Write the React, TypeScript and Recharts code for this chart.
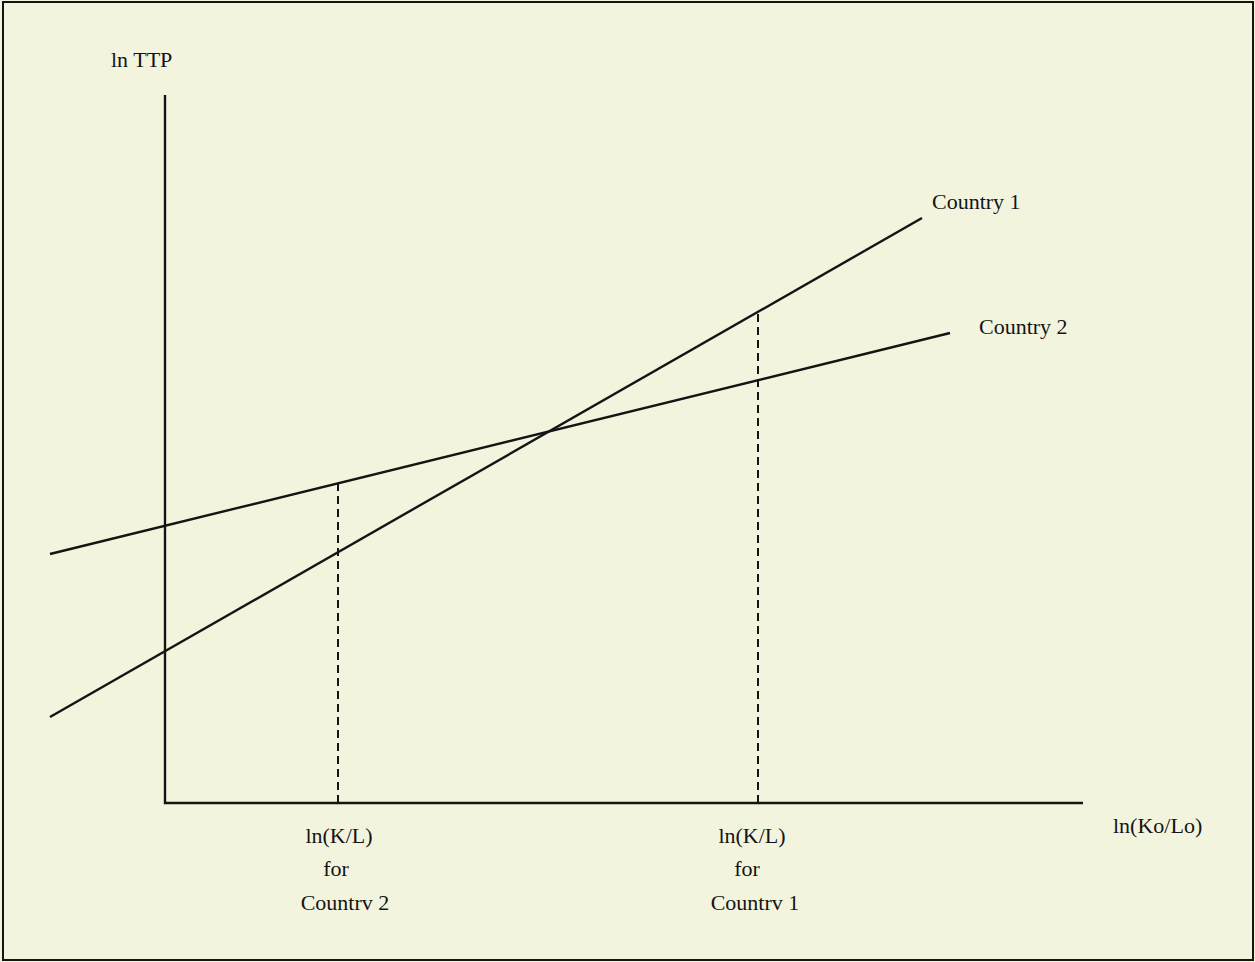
import React from 'react';
import { ComposedChart, Line, Scatter, XAxis, YAxis } from 'recharts';

// diagram units: x = 0 at the vertical axis, y = 0 at the horizontal axis
const country1 = [
    { x: -1.15, y: 0.86 },
    { x: 7.57, y: 5.85 },
];
const country2 = [
    { x: -1.15, y: 2.49 },
    { x: 7.85, y: 4.7 },
];
const axesPath = [
    { x: 0, y: 7.08 },
    { x: 0, y: 0 },
    { x: 9.18, y: 0 },
];
const dropCountry2 = [
    { x: 1.73, y: 0 },
    { x: 1.73, y: 3.2 },
];
const dropCountry1 = [
    { x: 5.93, y: 0 },
    { x: 5.93, y: 4.91 },
];

const startLabels = [
    { x: -0.54, y: 7.36, text: 'ln TTP' },
    { x: 7.67, y: 5.94, text: 'Country 1' },
    { x: 8.14, y: 4.69, text: 'Country 2' },
    { x: 9.48, y: -0.3, text: 'ln(Ko/Lo)' },
];
const tickLabels = [
    { x: 1.74, y: -0.4, text: 'ln(K/L)' },
    { x: 1.71, y: -0.73, text: 'for' },
    { x: 1.8, y: -1.07, text: 'Countrv 2' },
    { x: 5.87, y: -0.4, text: 'ln(K/L)' },
    { x: 5.82, y: -0.73, text: 'for' },
    { x: 5.9, y: -1.07, text: 'Countrv 1' },
];

const INK = '#141414';
const BG = '#f3f4de';
const FONT = '"Liberation Serif", "Times New Roman", serif';

const makeText = (anchor: 'start' | 'middle') => (props: any) => (
    <text
        x={props.cx}
        y={props.cy}
        textAnchor={anchor}
        fontFamily={FONT}
        fontSize={22}
        fill={INK}
    >
        {props.payload.text}
    </text>
);

const lineProps = {
    type: 'linear' as const,
    dataKey: 'y',
    stroke: INK,
    dot: false,
    activeDot: false,
    legendType: 'none' as const,
    isAnimationActive: false,
};

export default function App() {
    return (
        <div style={{ position: 'relative', width: 1255, height: 962, background: BG }}>
            <style>{'body { margin: 0; }'}</style>
            <ComposedChart width={1255} height={962} margin={{ top: 0, right: 0, bottom: 0, left: 0 }}>
                <XAxis type="number" dataKey="x" domain={[-1.65, 10.9]} hide />
                <YAxis type="number" dataKey="y" domain={[-1.59, 8.03]} hide />

                <Line {...lineProps} data={axesPath} strokeWidth={2.4} />
                <Line {...lineProps} data={country1} strokeWidth={2.4} />
                <Line {...lineProps} data={country2} strokeWidth={2.4} />
                <Line {...lineProps} data={dropCountry2} strokeWidth={2} strokeDasharray="8 5" />
                <Line {...lineProps} data={dropCountry1} strokeWidth={2} strokeDasharray="8 5" />

                <Scatter data={startLabels} shape={makeText('start')} isAnimationActive={false} />
                <Scatter data={tickLabels} shape={makeText('middle')} isAnimationActive={false} />
            </ComposedChart>
            <div
                style={{
                    position: 'absolute',
                    left: 2,
                    top: 1,
                    width: 1252,
                    height: 960,
                    border: `2px solid ${INK}`,
                    boxSizing: 'border-box',
                    pointerEvents: 'none',
                }}
            />
        </div>
    );
}
